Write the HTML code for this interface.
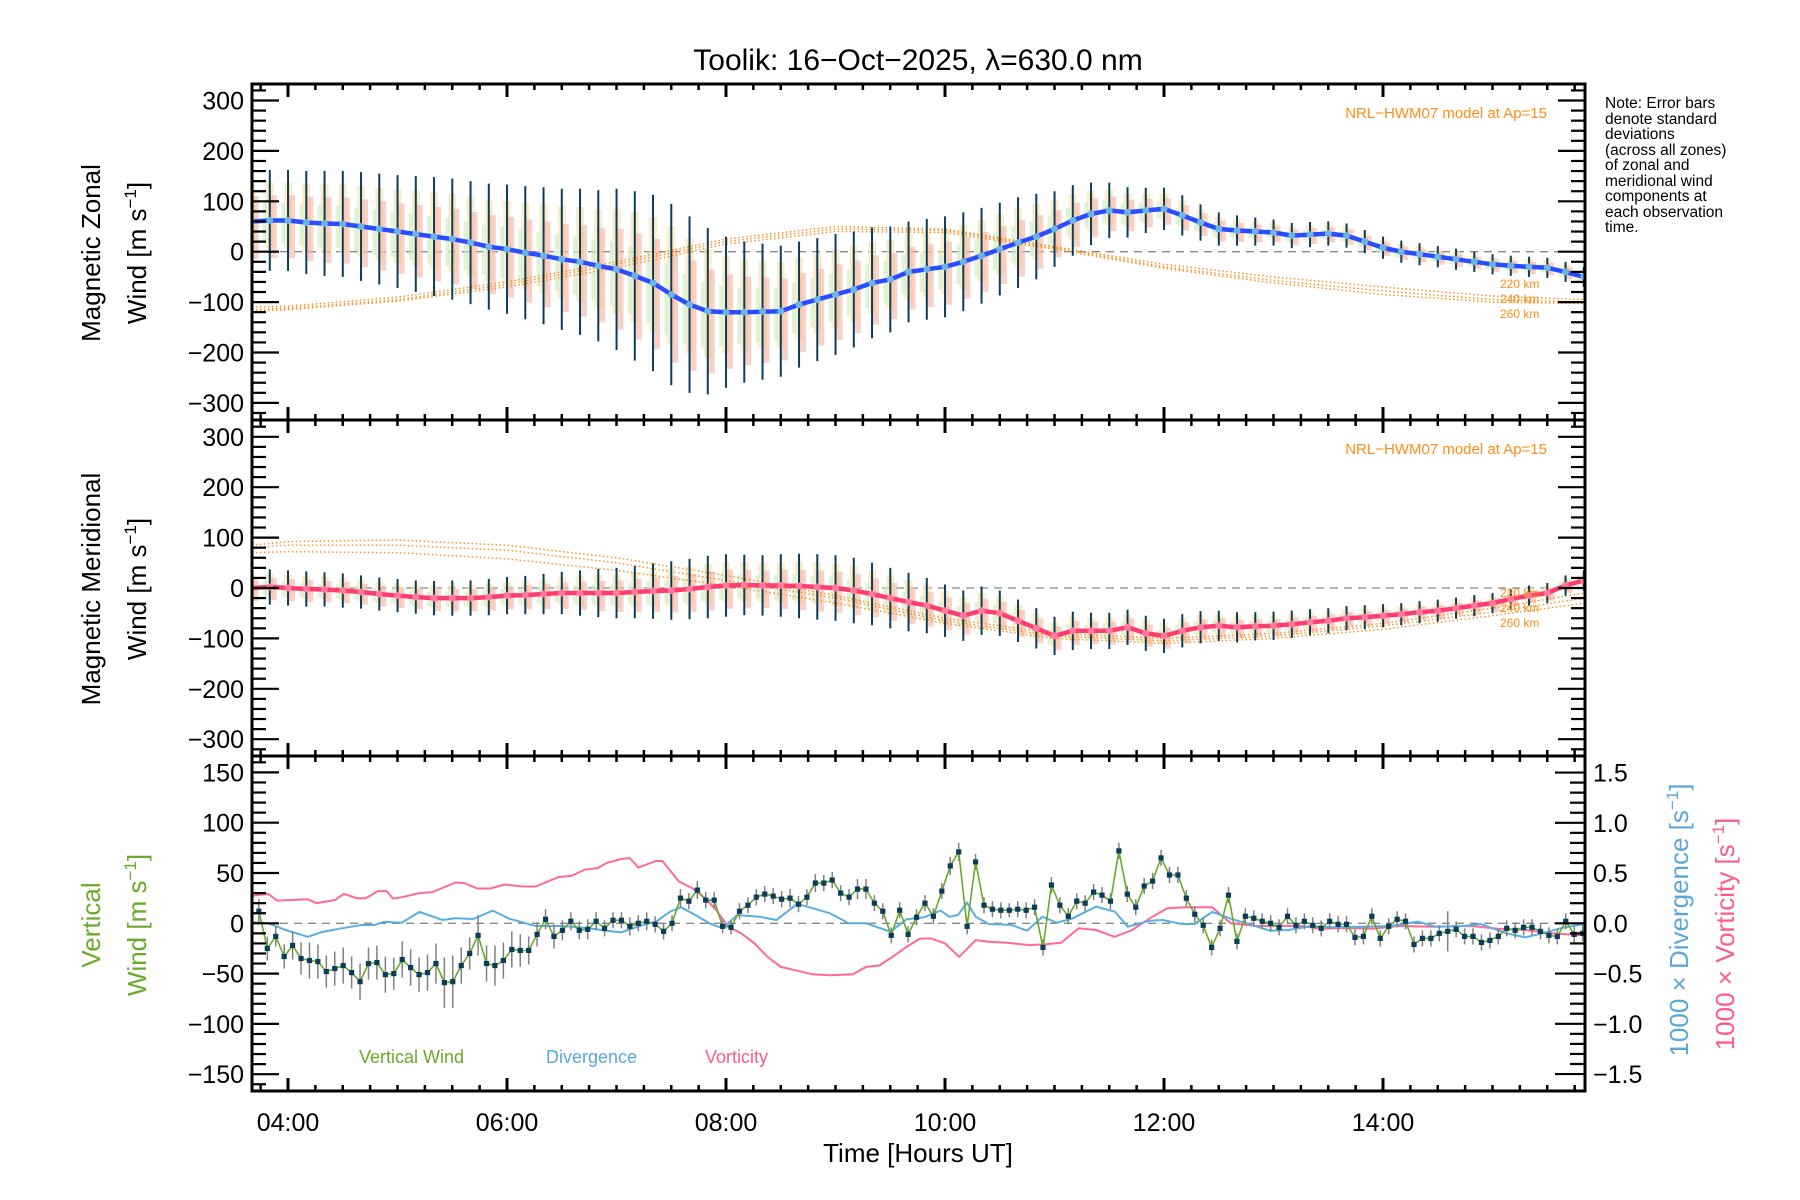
<!DOCTYPE html>
<html><head><meta charset="utf-8"><title>Toolik winds</title>
<style>
html,body{margin:0;padding:0;background:#fff;}
svg{display:block;font-family:"Liberation Sans",sans-serif;}
</style></head>
<body>
<svg id="chart" width="1800" height="1200" viewBox="0 0 1800 1200" xmlns="http://www.w3.org/2000/svg">
<defs>
<clipPath id="c1"><rect x="252" y="84" width="1333" height="336"/></clipPath>
<clipPath id="c2"><rect x="252" y="420" width="1333" height="336"/></clipPath>
<clipPath id="c3"><rect x="252" y="756" width="1333" height="335"/></clipPath>
</defs>
<text x="918" y="70" font-size="30" text-anchor="middle">Toolik: 16−Oct−2025, λ=630.0 nm</text>
<g id="layer-bg"></g>
<g id="layer-data"></g>
<g id="layer-axes"></g>
<text transform="translate(100,253) rotate(-90)" font-size="26" text-anchor="middle">Magnetic Zonal</text>
<text transform="translate(146,253) rotate(-90)" font-size="26" text-anchor="middle">Wind [m s<tspan dy="-10" font-size="17">−1</tspan><tspan dy="10">]</tspan></text>
<text transform="translate(100,589) rotate(-90)" font-size="26" text-anchor="middle">Magnetic Meridional</text>
<text transform="translate(146,589) rotate(-90)" font-size="26" text-anchor="middle">Wind [m s<tspan dy="-10" font-size="17">−1</tspan><tspan dy="10">]</tspan></text>
<text transform="translate(100,925) rotate(-90)" font-size="26" text-anchor="middle" fill="#6aaa2a">Vertical</text>
<text transform="translate(146,925) rotate(-90)" font-size="26" text-anchor="middle" fill="#6aaa2a">Wind [m s<tspan dy="-10" font-size="17">−1</tspan><tspan dy="10">]</tspan></text>
<text transform="translate(1688,920) rotate(-90)" font-size="26" text-anchor="middle" fill="#5aa8d8">1000 × Divergence [s<tspan dy="-10" font-size="17">−1</tspan><tspan dy="10">]</tspan></text>
<text transform="translate(1734,934) rotate(-90)" font-size="26" text-anchor="middle" fill="#ff5a8a">1000 × Vorticity [s<tspan dy="-10" font-size="17">−1</tspan><tspan dy="10">]</tspan></text>
<text x="918" y="1162" font-size="26" text-anchor="middle">Time [Hours UT]</text>
<g font-size="15.5" fill="#000">
<text x="1605" y="108">Note: Error bars</text>
<text x="1605" y="124">denote standard</text>
<text x="1605" y="139">deviations</text>
<text x="1605" y="155">(across all zones)</text>
<text x="1605" y="170">of zonal and</text>
<text x="1605" y="186">meridional wind</text>
<text x="1605" y="201">components at</text>
<text x="1605" y="217">each observation</text>
<text x="1605" y="232">time.</text>
</g>
<text x="1547" y="118" font-size="15" fill="#ff8c1a" text-anchor="end">NRL−HWM07 model at Ap=15</text>
<text x="1547" y="454" font-size="15" fill="#ff8c1a" text-anchor="end">NRL−HWM07 model at Ap=15</text>
<g font-size="12" fill="#ff8c1a">
<text x="1500" y="288">220 km</text><text x="1500" y="303">240 km</text><text x="1500" y="318">260 km</text>
</g>
<g font-size="12" fill="#ff8c1a">
<text x="1500" y="597">220 km</text><text x="1500" y="612">240 km</text><text x="1500" y="627">260 km</text>
</g>
<text x="359" y="1063" font-size="18" fill="#6aaa2a">Vertical Wind</text>
<text x="546" y="1063" font-size="18" fill="#5aa8d8">Divergence</text>
<text x="705" y="1063" font-size="18" fill="#ff5a8a">Vorticity</text>
</svg>
<script>
// ---------- data ----------
const sampleStartHour = 3.667;      // 03:40 UT
const sampleStepMin = 10;
const zonalMean = [60,62,62,58,56,55,50,45,40,35,30,25,18,10,5,-2,-8,-15,-20,-28,-35,-48,-62,-85,-105,-118,-120,-120,-119,-118,-105,-95,-85,-75,-62,-55,-40,-35,-30,-20,-8,5,18,30,45,62,75,82,78,82,85,72,58,45,42,40,38,32,34,36,32,20,8,0,-5,-10,-15,-20,-25,-28,-30,-32,-40,-50];
const zonalSigma = [100,100,100,102,104,105,108,110,112,115,118,120,122,125,128,132,136,140,145,150,160,168,175,180,175,165,150,140,135,130,125,122,120,115,110,105,100,100,100,98,95,92,90,85,75,70,62,55,50,45,42,40,36,33,30,28,26,25,25,24,24,23,22,22,22,21,21,20,20,20,20,20,20,20];
const meridMean = [0,2,0,-2,-3,-5,-8,-12,-15,-18,-20,-20,-20,-18,-15,-14,-12,-10,-10,-10,-10,-8,-6,-5,-2,2,5,6,5,5,4,2,0,-5,-12,-20,-28,-35,-45,-55,-45,-50,-65,-80,-95,-85,-85,-85,-78,-90,-95,-85,-78,-75,-78,-76,-75,-72,-68,-65,-60,-58,-55,-52,-48,-45,-40,-35,-30,-22,-15,-10,5,15];
const meridSigma = [35,35,35,35,34,34,33,33,33,33,34,35,35,36,37,38,40,42,45,48,50,52,55,58,60,62,62,60,60,62,64,65,65,65,62,60,58,55,52,50,48,45,42,40,38,38,36,36,35,35,34,33,32,30,30,28,28,27,26,25,24,24,23,22,22,22,21,21,20,20,20,20,20,20];
const modelHours = [3.67,4,5,6,7,8,9,10,11,12,13,14,15,15.84];
const zonalModel220 = [-110,-108,-90,-60,-20,25,50,45,10,-25,-50,-70,-88,-95];
const zonalModel240 = [-115,-112,-95,-65,-25,20,45,42,8,-30,-57,-78,-95,-100];
const zonalModel260 = [-118,-115,-98,-70,-32,15,40,38,5,-33,-62,-85,-100,-103];
const meridModel220 = [85,92,95,85,60,25,-15,-60,-90,-100,-90,-70,-40,-10];
const meridModel240 = [80,85,85,75,50,15,-20,-65,-95,-105,-95,-75,-48,-20];
const meridModel260 = [70,72,70,58,35,5,-30,-70,-100,-110,-100,-82,-55,-30];
const vzStartHour = 3.734;
const vzStepMin = 4.62;
const vzValues = [12,-25,-13,-33,-22,-35,-37,-38,-48,-45,-42,-49,-58,-40,-39,-51,-50,-36,-44,-51,-49,-40,-59,-58,-42,-30,-12,-40,-42,-37,-26,-27,-27,-11,4,-13,-7,2,-7,-6,2,-5,3,3,-3,0,2,-1,-8,0,25,22,33,23,23,-3,-4,12,18,26,29,27,24,25,19,26,40,40,43,30,26,34,34,20,12,-12,13,-11,6,20,7,32,57,
71,-3,61,18,14,13,13,14,13,16,-24,38,18,7,22,20,31,28,22,72,29,16,37,42,65,48,48,25,9,-2,-24,-5,28,-18,7,5,2,0,-4,7,-2,2,-2,-5,2,-1,-1,-14,-13,7,-15,-3,4,2,-21,-15,-15,-10,-8,-6,-13,-13,-19,-17,-13,-5,-7,-4,-4,-8,-12,-13,2,-11,-10];
const vzErr = [12,12,10,12,14,16,18,17,16,17,18,16,18,16,17,18,16,18,18,17,18,20,25,26,18,16,20,18,20,18,18,16,14,12,10,12,10,9,9,10,9,8,8,8,9,8,9,8,8,8,9,8,9,8,8,7,7,8,8,8,8,8,8,9,8,8,9,8,8,8,8,10,10,8,8,8,8,8,8,8,8,8,9,
9,8,8,8,8,8,7,8,8,8,8,8,8,8,8,8,8,8,8,8,8,8,8,8,8,8,8,8,8,8,8,8,8,8,8,8,8,8,8,8,8,8,8,8,8,8,8,8,8,8,8,8,8,8,8,8,8,8,20,8,8,8,8,8,8,8,8,8,8,8,8,8,8,8,8];
const vortHours = [3.65,3.82,3.90,4.06,4.18,4.26,4.43,4.51,4.63,4.71,4.82,4.90,4.96,5.04,5.20,5.32,5.53,5.61,5.73,5.85,5.98,6.14,6.26,6.47,6.59,6.71,6.83,6.91,7.04,7.12,7.20,7.36,7.42,7.57,7.69,7.81,7.91,8.02,8.14,8.26,8.38,8.50,8.63,8.79,8.95,9.16,9.28,9.40,9.52,9.65,9.77,9.87,10.0,10.13,10.28,10.40,10.57,10.77,10.93,11.06,11.22,11.38,11.55,11.71,11.87,12.03,12.20,12.44,12.61,12.85,13.10,13.26,13.42,13.67,13.91,14.15,14.48,14.81,15.05,15.30,15.54,15.79,15.95];
const vortValues = [0.273,0.293,0.226,0.233,0.24,0.2,0.233,0.293,0.25,0.25,0.32,0.32,0.246,0.26,0.3,0.31,0.406,0.4,0.346,0.346,0.386,0.366,0.366,0.46,0.473,0.533,0.55,0.6,0.64,0.65,0.556,0.62,0.62,0.416,0.35,0.25,0.133,-0.034,-0.1,-0.2,-0.334,-0.434,-0.467,-0.507,-0.517,-0.507,-0.434,-0.42,-0.334,-0.234,-0.154,-0.15,-0.2,-0.334,-0.167,-0.183,-0.194,-0.217,-0.207,-0.194,-0.05,-0.067,-0.134,-0.067,0.05,0.15,0.16,0.16,0.0,-0.027,-0.027,-0.027,-0.054,-0.047,-0.054,-0.027,-0.034,-0.027,-0.054,-0.067,-0.1,-0.117,-0.1];
const divHours = [3.65,3.82,3.98,4.18,4.31,4.47,4.67,4.79,4.88,5.04,5.20,5.41,5.53,5.69,5.87,6.02,6.26,6.51,6.75,6.91,7.04,7.24,7.36,7.49,7.59,7.69,7.85,7.97,8.10,8.30,8.46,8.65,8.79,8.95,9.12,9.28,9.50,9.65,9.81,9.96,10.04,10.12,10.20,10.28,10.40,10.61,10.75,10.89,11.02,11.16,11.38,11.55,11.67,11.87,11.99,12.16,12.28,12.44,12.61,12.85,12.97,13.14,13.34,13.54,13.79,14.07,14.32,14.48,14.73,14.89,15.13,15.30,15.46,15.62,15.83];
const divValues = [0.013,0,-0.067,-0.134,-0.087,-0.054,-0.017,-0.017,0.016,0.006,0.113,0.033,0.05,0.043,0.126,0.046,-0.027,-0.027,-0.05,-0.074,-0.09,-0.017,0.016,0.116,0.16,0.1,0,-0.05,0.083,0.066,0.033,0.193,0.15,0.1,0,0,-0.084,0.04,0.06,0.126,0.066,0.083,0.206,0.066,-0.007,-0.017,-0.074,0.066,0.006,0.046,0.166,0.116,-0.034,0.026,0.033,-0.007,-0.007,0.113,0.046,-0.034,-0.074,-0.067,-0.027,-0.04,-0.034,-0.027,0.016,-0.034,-0.027,-0.007,-0.1,-0.14,-0.1,-0.05,-0.007];
const windTicks = [300,200,100,0,-100,-200,-300];
const vzTicks = [150,100,50,0,-50,-100,-150];
const ratioTicks = [1.5,1.0,0.5,0.0,-0.5,-1.0,-1.5];
const hourTicks = [4,6,8,10,12,14];
const hourTickLabels = ["04:00","06:00","08:00","10:00","12:00","14:00"];

// ---------- scales ----------
const X0=252, X1=1585;
const xs = h => 288 + (h-4)*109.5;
const y1 = v => 251.7 - v*0.504;
const y2 = v => 588 - v*0.504;
const y3 = v => 923.3 - v*1.006;
const yr = v => 923.3 - v*100.5;
const NS='http://www.w3.org/2000/svg';
const bg=document.getElementById('layer-bg'), dl=document.getElementById('layer-data'), ax=document.getElementById('layer-axes');
function mk(tag, attrs, parent){const e=document.createElementNS(NS,tag);for(const k in attrs)e.setAttribute(k,attrs[k]);(parent||dl).appendChild(e);return e;}
function pathD(xsArr, ysArr){let d='';for(let i=0;i<xsArr.length;i++)d+=(i?'L':'M')+xsArr[i].toFixed(1)+' '+ysArr[i].toFixed(1);return d;}
const sampleHour = i => sampleStartHour + i*sampleStepMin/60;

// ---------- panels (wind) ----------
function windPanel(clip, ys, mean, sigma, models, lineColor, dotColor, prefix){
  const g = mk('g',{'clip-path':'url(#'+clip+')'});
  
  
  const z = mk('line',{x1:X0,x2:X1,y1:ys(0),y2:ys(0),stroke:'#888','stroke-width':1.3,'stroke-dasharray':'8,6'},g);
  
  
  for(let i=0;i<mean.length;i++){
    const x=xs(sampleHour(i));
    const r1=mk('rect',{x:x-4,y:ys(mean[i]+sigma[i]*0.75),width:8,height:Math.abs(ys(mean[i]-sigma[i]*0.55)-ys(mean[i]+sigma[i]*0.75)),fill:'#fbe3a8',opacity:0.65},g);
    
    
    const r2=mk('rect',{x:x+1,y:ys(mean[i]+sigma[i]*0.5),width:6,height:Math.abs(ys(mean[i]-sigma[i]*0.75)-ys(mean[i]+sigma[i]*0.5)),fill:'#f6b3a0',opacity:0.6},g);
    
    
    const r3=mk('rect',{x:x-7,y:ys(mean[i]+sigma[i]*0.35),width:4,height:Math.abs(ys(mean[i]-sigma[i]*0.45)-ys(mean[i]+sigma[i]*0.35)),fill:'#c8eccb',opacity:0.6},g);
    
    
  }
  const cols=['#ff8c1a','#ff8c1a','#ff8c1a'];
  models.forEach((m,k)=>{
    const p=mk('path',{d:pathD(modelHours.map(xs),m.map(ys)),fill:'none',stroke:cols[k],'stroke-width':1.4,'stroke-dasharray':'1.5,2.5'},g);
    
    
  });
  for(let i=0;i<mean.length;i++){
    const x=xs(sampleHour(i));
    const e=mk('line',{x1:x,x2:x,y1:ys(mean[i]+sigma[i]),y2:ys(mean[i]-sigma[i]),stroke:'#0a3d5c','stroke-width':2},g);
    
    
  }
  const hx=mean.map((v,i)=>xs(sampleHour(i)));
  const ln=mk('path',{d:pathD(hx,mean.map(ys)),fill:'none',stroke:lineColor,'stroke-width':4.5,'stroke-linejoin':'round'},g);
  
  
  for(let i=0;i<mean.length;i++){
    const c=mk('circle',{cx:hx[i],cy:ys(mean[i]),r:3.5,fill:dotColor},g);
    
    
  }
}
windPanel('c1', y1, zonalMean, zonalSigma, [zonalModel220,zonalModel240,zonalModel260], '#2a4cff', '#6ab4e6', 'zonal');
windPanel('c2', y2, meridMean, meridSigma, [meridModel220,meridModel240,meridModel260], '#ff3c6e', '#ff7aa0', 'meridional');

// ---------- vertical panel ----------
{
  const g = mk('g',{'clip-path':'url(#c3)'});
  
  
  const z = mk('line',{x1:X0,x2:X1,y1:y3(0),y2:y3(0),stroke:'#888','stroke-width':1.3,'stroke-dasharray':'8,6'},g);
  
  
  const vz = mk('path',{d:pathD(vortHours.map(xs),vortValues.map(yr)),fill:'none',stroke:'#ff6a98','stroke-width':2},g);
  
  
  const dv = mk('path',{d:pathD(divHours.map(xs),divValues.map(yr)),fill:'none',stroke:'#5aaee0','stroke-width':2},g);
  
  
  const vh = vzValues.map((v,i)=>vzStartHour + i*vzStepMin/60);
  for(let i=0;i<vzValues.length;i++){
    const x=xs(vh[i]);
    const e=mk('line',{x1:x,x2:x,y1:y3(vzValues[i]+vzErr[i]),y2:y3(vzValues[i]-vzErr[i]),stroke:'#808080','stroke-width':1.5},g);
    
    
  }
  const ln = mk('path',{d:pathD(vh.map(xs),vzValues.map(y3)),fill:'none',stroke:'#6aaa2a','stroke-width':1.6},g);
  
  
  for(let i=0;i<vzValues.length;i++){
    const r=mk('rect',{x:xs(vh[i])-2.6,y:y3(vzValues[i])-2.6,width:5.2,height:5.2,fill:'#0a3d5c'},g);
    
    
  }
}

// ---------- axes ----------
const panels=[{top:84,bot:420,ys:y1,ticks:windTicks,minor:20,lo:-333,hi:333},{top:420,bot:756,ys:y2,ticks:windTicks,minor:20,lo:-333,hi:333},{top:756,bot:1091,ys:y3,ticks:vzTicks,minor:10,lo:-166,hi:166}];
panels.forEach((p,pi)=>{
  const f=mk('rect',{x:X0,y:p.top,width:X1-X0,height:p.bot-p.top,fill:'none',stroke:'#000','stroke-width':3},ax);
  
  
  for(let v=Math.ceil(p.lo/p.minor)*p.minor; v<=p.hi; v+=p.minor){
    const y=p.ys(v); if(y<p.top+1||y>p.bot-1) continue;
    const major = p.ticks.indexOf(v)>=0;
    const L = major?27:14;
    mk('line',{x1:X0,x2:X0+L,y1:y,y2:y,stroke:'#000','stroke-width':2.2},ax);
    if(pi<2) mk('line',{x1:X1,x2:X1-L,y1:y,y2:y,stroke:'#000','stroke-width':2.2},ax);
  }
  p.ticks.forEach(v=>{
    const t=mk('text',{x:244,y:p.ys(v)+9,'font-size':25,'text-anchor':'end'},ax);
    
    
    t.textContent = v<0 ? '−'+Math.abs(v) : String(v);
  });
  for(let m=0; ; m+=15){
    const h=4+(m-30)/60; const x=xs(h);
    if(x>X1) break; if(x<X0+1) continue;
    const major = (Math.round(h*60)%120===0);
    const L = major?13:6;
    mk('line',{x1:x,x2:x,y1:p.top,y2:p.top+L,stroke:'#000','stroke-width':major?3:2.5},ax);
    mk('line',{x1:x,x2:x,y1:p.bot,y2:p.bot-L,stroke:'#000','stroke-width':major?3:2.5},ax);
  }
});
// right axis of vertical panel
for(let v=-1.5; v<=1.501; v+=0.1){
  const y=yr(v); if(y<757||y>1090) continue;
  const major=Math.abs(Math.round(v*2)-v*2)<0.01;
  mk('line',{x1:X1,x2:X1-(major?30:15),y1:y,y2:y,stroke:'#000','stroke-width':2.2},ax);
}
ratioTicks.forEach(v=>{
  const t=mk('text',{x:1593,y:yr(v)+9,'font-size':25,'text-anchor':'start'},ax);
  
  
  t.textContent = (v<0?'−':'')+Math.abs(v).toFixed(1);
});
hourTicks.forEach((h,i)=>{
  const t=mk('text',{x:xs(h),y:1131,'font-size':25,'text-anchor':'middle'},ax);
  
  
  t.textContent = hourTickLabels[i];
});
</script>
</body></html>
